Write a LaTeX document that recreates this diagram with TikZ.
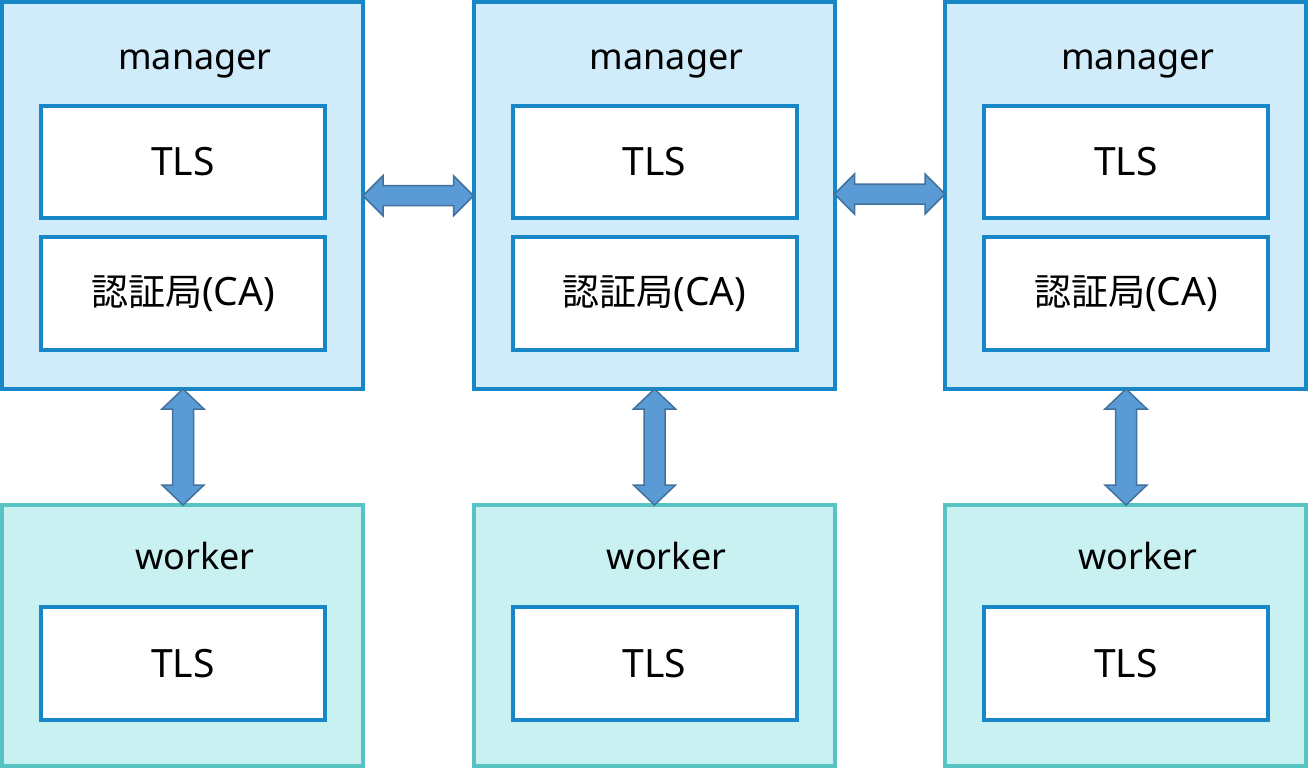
\documentclass[tikz,border=0pt]{standalone}
\usepackage{fontspec}
\setmainfont{Noto Sans}
\newfontfamily\cjk{Noto Sans CJK JP}
\usetikzlibrary{calc}
\definecolor{mgrfill}{HTML}{D0ECFA}
\definecolor{mgrline}{HTML}{1787C8}
\definecolor{wkfill}{HTML}{C9F1F1}
\definecolor{wkline}{HTML}{58C3C3}
\definecolor{arrfill}{HTML}{5B9BD5}
\definecolor{arrline}{HTML}{41719C}
\tikzset{
 mgr/.style={draw=mgrline, fill=mgrfill, line width=4bp, minimum width=361bp, minimum height=387bp, inner sep=0pt, outer sep=0pt},
 wkr/.style={draw=wkline, fill=wkfill, line width=4bp, minimum width=361bp, minimum height=261bp, inner sep=0pt, outer sep=0pt},
 inbox/.style={draw=mgrline, fill=white, line width=4bp, minimum width=284bp, minimum height=112bp, inner sep=0pt, outer sep=0pt, font=\fontsize{39bp}{45bp}\selectfont},
 ttl/.style={anchor=base, inner sep=0pt, font=\fontsize{36bp}{42bp}\selectfont},
 arr/.style={draw=arrline, fill=arrfill, line width=1.5bp, line join=miter}
}
\newcommand\vdarrow[2]{%
 \draw[arr] (#1) -- ++(21,20) -- ++(-10.5,0) -- ($(#2)+(10.5,-20)$) -- ++(10.5,0) -- (#2) -- ++(-21,-20) -- ++(10.5,0) -- ($(#1)+(-10.5,20)$) -- ++(-10.5,0) -- cycle;}
\newcommand\hdarrow[2]{%
 \draw[arr] (#1) -- ++(20,-20) -- ++(0,10) -- ($(#2)+(-20,-10)$) -- ++(0,-10) -- (#2) -- ++(-20,20) -- ++(0,-10) -- ($(#1)+(20,10)$) -- ++(0,10) -- cycle;}
\begin{document}
\begin{tikzpicture}[x=1bp,y=-1bp]
\path[use as bounding box, fill=white] (0,0) rectangle (1309,768);
\foreach \i/\cx in {1/182.5, 2/654, 3/1125.5} {
  \node[mgr] (m\i) at (\cx,195.5) {};
  \node[wkr] (w\i) at (\cx,635.5) {};
  \node[ttl] (m\i t) at ($(m\i.north)+(12.5,68)$) {manager};
  \node[inbox] (m\i tls) at ($(m\i.north)+(0.5,160)$) {TLS};
  \node[inbox, minimum height=113bp] (m\i ca) at ($(m\i.north)+(0.5,291.5)$) {{\cjk\fontsize{37bp}{42bp}\selectfont 認証局}(CA)};
  \node[ttl] (w\i t) at ($(w\i.north)+(12.5,64)$) {worker};
  \node[inbox, minimum height=113bp] (w\i tls) at ($(w\i.north)+(0.5,158.5)$) {TLS};
  \coordinate (va\i) at ($(m\i.south)+(0.5,0)$);
  \coordinate (vb\i) at ($(w\i.north)+(0.5,0)$);
  \vdarrow{va\i}{vb\i}
}
\coordinate (ha1) at (m1.east |- 0,195.7);
\coordinate (hb1) at (m2.west |- 0,195.7);
\hdarrow{ha1}{hb1}
\coordinate (ha2) at (m2.east |- 0,194);
\coordinate (hb2) at (m3.west |- 0,194);
\hdarrow{ha2}{hb2}
\end{tikzpicture}
\end{document}
